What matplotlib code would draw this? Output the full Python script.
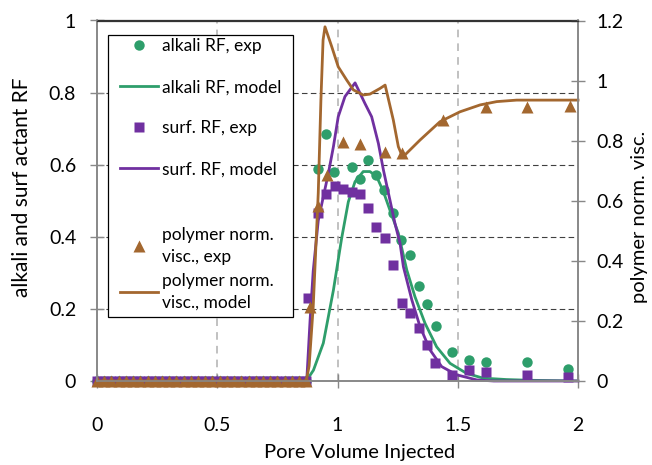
import numpy as np
import matplotlib
matplotlib.use("Agg")
from matplotlib import pyplot as plt
from matplotlib.patches import Rectangle
from matplotlib.lines import Line2D

plt.rcParams['font.family'] = ['Lato', 'DejaVu Sans']

# colours
GREEN = '#2e9e6b'
PURPLE = '#7030a0'
BROWN = '#a3672f'

# exp. points sitting on zero before breakthrough
pv_zero = [0.0, 0.03, 0.06, 0.09, 0.12, 0.15, 0.18, 0.21, 0.24, 0.27,
           0.30, 0.33, 0.36, 0.39, 0.42, 0.45, 0.48, 0.51, 0.54, 0.57,
           0.60, 0.63, 0.66, 0.69, 0.72, 0.75, 0.78, 0.81, 0.84, 0.87]
val_zero = [0.0] * len(pv_zero)

# alkali RF, exp
alk_pv = [0.918, 0.952, 0.987, 1.059, 1.094, 1.127, 1.160, 1.195, 1.230, 1.265,
          1.301, 1.338, 1.373, 1.408, 1.476, 1.547, 1.616, 1.788, 1.960]
alk_rf = [0.587, 0.685, 0.579, 0.594, 0.560, 0.613, 0.571, 0.529, 0.466, 0.390,
          0.350, 0.264, 0.214, 0.153, 0.080, 0.057, 0.053, 0.053, 0.032]

# alkali RF, model
alk_mod_pv = [0.0, 0.87, 0.90, 0.941, 0.983, 1.017, 1.045, 1.073, 1.107, 1.135,
              1.163, 1.191, 1.218, 1.253, 1.288, 1.322, 1.364, 1.412, 1.468,
              1.537, 1.605, 1.703, 1.80, 2.0]
alk_mod = [0.0, 0.0, 0.03, 0.105, 0.252, 0.395, 0.497, 0.553, 0.581, 0.581,
           0.567, 0.525, 0.474, 0.410, 0.308, 0.234, 0.160, 0.095, 0.049,
           0.021, 0.008, 0.004, 0.002, 0.0]

# surf. RF, exp
surf_pv = [0.879, 0.920, 0.952, 0.988, 1.023, 1.059, 1.094, 1.128, 1.161, 1.198,
           1.232, 1.267, 1.301, 1.337, 1.371, 1.406, 1.476, 1.547, 1.616, 1.788,
           1.960]
surf_rf = [0.229, 0.466, 0.520, 0.540, 0.532, 0.523, 0.520, 0.479, 0.428, 0.396,
           0.322, 0.217, 0.188, 0.146, 0.099, 0.051, 0.017, 0.031, 0.024, 0.017,
           0.012]

# surf. RF, model
surf_mod_pv = [0.0, 0.872, 0.886, 0.899, 0.920, 0.941, 0.962, 0.983, 1.003,
               1.031, 1.073, 1.114, 1.142, 1.170, 1.191, 1.218, 1.239, 1.260,
               1.274, 1.309, 1.343, 1.385, 1.433, 1.496, 1.579, 1.65, 2.0]
surf_mod = [0.0, 0.0, 0.169, 0.305, 0.445, 0.511, 0.576, 0.650, 0.733,
            0.789, 0.827, 0.770, 0.733, 0.659, 0.585, 0.502, 0.437, 0.382,
            0.317, 0.225, 0.151, 0.086, 0.040, 0.017, 0.003, 0.0, 0.0]

# polymer norm. visc., exp
pol_pv = [0.886, 0.920, 0.955, 1.024, 1.094, 1.199, 1.268, 1.440, 1.616, 1.789, 1.965]
pol_visc = [0.247, 0.584, 0.686, 0.797, 0.789, 0.762, 0.758, 0.869, 0.911, 0.911, 0.915]

# polymer norm. visc., model
pol_mod_pv = [0.0, 0.87, 0.882, 0.899, 0.920, 0.931, 0.940, 0.948, 0.976, 1.003,
              1.038, 1.066, 1.107, 1.135, 1.177, 1.198, 1.232, 1.253, 1.271,
              1.343, 1.426, 1.509, 1.593, 1.662, 1.745, 2.0]
pol_mod = [0.0, 0.0, 0.05, 0.247, 0.626, 0.935, 1.135, 1.179, 1.113, 1.046,
           1.002, 0.969, 0.952, 0.955, 0.974, 0.985, 0.869, 0.780, 0.745,
           0.802, 0.863, 0.896, 0.919, 0.930, 0.935, 0.935]

x_ticks = [0, 0.5, 1, 1.5, 2]
y_ticks = [0, 0.2, 0.4, 0.6, 0.8, 1]
y2_ticks = [0, 0.2, 0.4, 0.6, 0.8, 1, 1.2]

W, H = 652, 465
fig = plt.figure(figsize=(W / 100, H / 100), dpi=100)
ax = fig.add_axes([97 / W, 1 - 381 / H, 481 / W, 360.5 / H])
ax2 = ax.twinx()

ms = 7.5
ax.plot(pv_zero, val_zero, 'o', color=GREEN, ms=ms, mec='none', clip_on=False)
ax.plot(alk_pv, alk_rf, 'o', color=GREEN, ms=ms, mec='none', clip_on=False)
ax.plot(alk_mod_pv, alk_mod, '-', color=GREEN, lw=2.0)
ax.plot(pv_zero, val_zero, 's', color=PURPLE, ms=7, mec='none', clip_on=False)
ax.plot(surf_pv, surf_rf, 's', color=PURPLE, ms=7, mec='none', clip_on=False)
ax.plot(surf_mod_pv, surf_mod, '-', color=PURPLE, lw=2.0, clip_on=False)

ax2.plot(pv_zero, val_zero, '^', color=BROWN, ms=8, mec='none', clip_on=False)
ax2.plot(pol_pv, pol_visc, '^', color=BROWN, ms=9, mec='none', clip_on=False)
ax2.plot(pol_mod_pv, pol_mod, '-', color=BROWN, lw=2.0, clip_on=False)

ax.set_xlim(0, 2)
ax.set_ylim(0, 1)
ax2.set_ylim(0, 1.2)
ax.set_xticks(x_ticks)
ax.set_xticklabels(['0', '0.5', '1', '1.5', '2'])
ax.set_yticks(y_ticks)
ax.set_yticklabels(['0', '0.2', '0.4', '0.6', '0.8', '1'])
ax2.set_yticks(y2_ticks)
ax2.set_yticklabels(['0', '0.2', '0.4', '0.6', '0.8', '1', '1.2'])

# grid: dark dashed horizontals, light dashed verticals
for yv in y_ticks[1:-1]:
    ax.axhline(yv, color='#404040', lw=0.8, ls=(0, (5, 3)), zorder=0.5)
for xv in x_ticks[1:-1]:
    ax.axvline(xv, color='#b0b0b0', lw=1.1, ls=(0, (5, 4)), zorder=0.5)

for a in (ax, ax2):
    for s in ['left', 'right', 'bottom']:
        a.spines[s].set_color('#888888')
        a.spines[s].set_linewidth(1.2)
    a.spines['top'].set_color('#333333')
    a.spines['top'].set_linewidth(0.9)

ax.tick_params(axis='x', direction='inout', length=10, color='#888888', width=1,
               labelsize=14, pad=21)
ax.tick_params(axis='y', direction='inout', length=10, color='#888888', width=1,
               labelsize=14, pad=10)
ax2.tick_params(axis='y', direction='inout', length=10, color='#888888', width=1,
                labelsize=14, pad=8)

ax.set_xlabel('Pore Volume Injected', fontsize=14.5)
ax.xaxis.set_label_coords(0.545, -0.175)
ax.set_ylabel('alkali and surf actant RF', fontsize=15)
ax.yaxis.set_label_coords(-0.135, 0.538)
ax2.set_ylabel('polymer norm. visc.', fontsize=14.5, rotation=90)
ax2.yaxis.set_label_coords(1.110, 0.455)

# legend: white box with black border, two packs of entries
box = Rectangle((108 / W, 1 - 317 / H), 185 / W, 282 / H, transform=fig.transFigure,
                facecolor='white', edgecolor='black', lw=0.9, zorder=4)
ax2.add_artist(box)

h1 = [Line2D([], [], ls='none', marker='o', color=GREEN, ms=ms, mec='none'),
      Line2D([], [], color=GREEN, lw=2.0),
      Line2D([], [], ls='none', marker='s', color=PURPLE, ms=7, mec='none'),
      Line2D([], [], color=PURPLE, lw=2.0)]
l1 = ['alkali RF, exp', 'alkali RF, model', 'surf. RF, exp', 'surf. RF, model']
h2 = [Line2D([], [], ls='none', marker='^', color=BROWN, ms=9, mec='none'),
      Line2D([], [], color=BROWN, lw=2.0)]
l2 = ['polymer norm.\nvisc., exp', 'polymer norm.\nvisc., model']

leg1 = ax2.legend(h1, l1, loc='upper left', bbox_to_anchor=(120 / W, 1 - 38 / H),
                  bbox_transform=fig.transFigure, frameon=False, fontsize=12.5,
                  borderpad=0, borderaxespad=0, handlelength=2.2, handletextpad=0.2,
                  labelspacing=1.45, numpoints=1)
leg1.set_zorder(5)
ax2.add_artist(leg1)
leg2 = ax2.legend(h2, l2, loc='upper left', bbox_to_anchor=(120 / W, 1 - 227 / H),
                  bbox_transform=fig.transFigure, frameon=False, fontsize=12.5,
                  borderpad=0, borderaxespad=0, handlelength=2.2, handletextpad=0.2,
                  labelspacing=0.45, numpoints=1)
for t in leg2.get_texts():
    t.set_linespacing(1.45)
leg2.set_zorder(5)

fig.savefig('out.png', dpi=100)
